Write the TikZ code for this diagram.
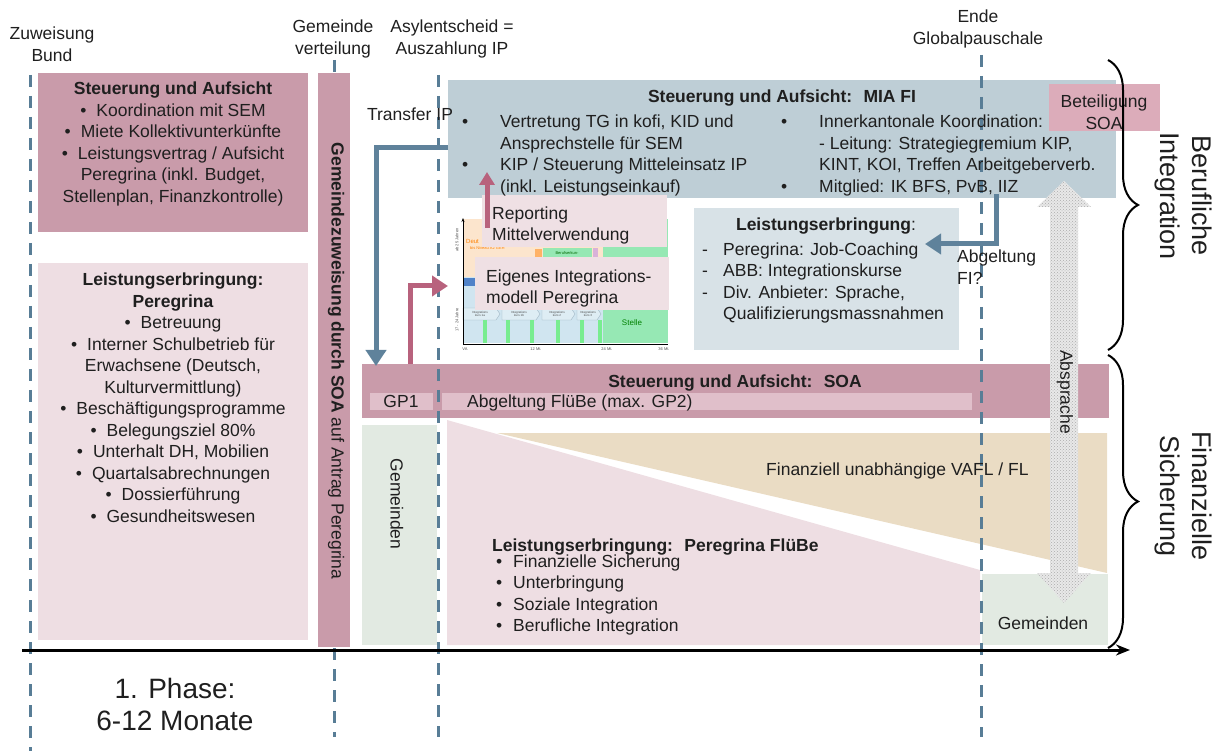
\documentclass[tikz,border=0pt]{standalone}
\usepackage{fontspec}
\setmainfont{Liberation Sans}
\usetikzlibrary{arrows.meta,decorations.pathreplacing,patterns}

\definecolor{soarose}{RGB}{201,155,170}
\definecolor{pinklight}{RGB}{238,222,227}
\definecolor{innerpink}{RGB}{224,191,202}
\definecolor{betpink}{RGB}{220,172,186}
\definecolor{miablue}{RGB}{190,206,214}
\definecolor{lebox}{RGB}{216,226,231}
\definecolor{gemgreen}{RGB}{226,234,226}
\definecolor{beige}{RGB}{234,220,196}
\definecolor{dashblue}{RGB}{88,125,150}
\definecolor{arrowblue}{RGB}{95,130,155}
\definecolor{arrowred}{RGB}{184,98,125}
\definecolor{peach}{RGB}{252,229,205}
\definecolor{chartblue}{RGB}{208,229,240}
\definecolor{mint}{RGB}{150,232,180}
\definecolor{chartdark}{RGB}{80,130,200}

\newcommand{\fs}{\fontsize{17.5}{21.5}\selectfont}
\newcommand{\bl}{\textbullet\hspace{10pt}}
\newcommand{\chfont}{\fontsize{4}{4.5}\selectfont}

\tikzset{
  fillbox/.style={inner sep=0pt, outer sep=0pt, anchor=north west},
  lbl/.style={font=\fs, inner sep=0pt, text=black!88},
  phase/.style={draw=dashblue, line width=3pt, dash pattern=on 12pt off 9pt},
  bluearrow/.style={draw=arrowblue, line width=5pt, -{Triangle[width=20pt,length=16pt]}},
  redarrow/.style={draw=arrowred, line width=5pt, -{Triangle[width=20pt,length=16pt]}},
  bigtxt/.style={inner sep=0pt, text=black!88, align=center},
  chtxt/.style={inner sep=0pt, font=\chfont, text=black!70},
}

\begin{document}
\begin{tikzpicture}[x=1pt,y=-1pt]
\useasboundingbox (0,0) rectangle (1227,751);

% labels above the time line
\node[lbl, align=center, anchor=north] (zuw) at (52,27) {Zuweisung\\Bund};
\node[lbl, align=center, anchor=north] (gemv) at (333,20) {Gemeinde\\verteilung};
\node[lbl, align=center, anchor=north] (asyl) at (452,20) {Asylentscheid =\\Auszahlung IP};
\node[lbl, align=center, anchor=north] (ende) at (978,10) {Ende\\Globalpauschale};

% Gemeindeverteilung (hidden by the bar)
\draw[phase] (334,60) -- (334,737);

% 1. Phase
\node[fillbox, fill=soarose, minimum width=270pt, minimum height=159pt] (steer) at (38,73) {};
\node[fillbox, fill=pinklight, minimum width=270pt, minimum height=377pt] (peregr) at (38,263) {};
\node[fillbox, fill=soarose, minimum width=32pt, minimum height=574pt] (gembar) at (318,73) {};

% Integration
\node[fillbox, fill=miablue, minimum width=668pt, minimum height=118pt] (mia) at (448,80) {};
\node[fillbox, fill=lebox, minimum width=265pt, minimum height=142pt] (lefi) at (694,208) {};

% chart of the integration model
\node[fillbox, minimum width=205pt, minimum height=126pt] (chart) at (463,218) {};
\fill[peach] (463,219) rectangle (603,277);
\fill[chartblue] (463,277) rectangle (603,343);
\fill[mint] (603,219) rectangle (668,343);
\fill[chartdark] (463,278) rectangle (478,286);
\fill[orange!60] (535,249) rectangle (542,257);
\fill[mint] (543,248) rectangle (592,257);
\fill[violet!30] (593,248) rectangle (598,257);
\foreach \xa/\xb in {463/500,502/540,542/575,577/601}
  \draw[fill=chartblue!70, draw=dashblue!60] (\xa,308) -- (\xb-4,308) -- (\xb,314) -- (\xb-4,320) -- (\xa,320) -- cycle;
\foreach \xp in {483,506,530,556,580,598}
  \fill[mint!80!green] (\xp,320) rectangle (\xp+4,343);
\draw[line width=0.8pt, -{Stealth[length=4pt]}] (chart.south west) -- (chart.north west);
\draw[line width=0.8pt] (chart.south west) -- (chart.south east);
\node[chtxt, anchor=north] (cva) at (465,348) {VA};
\node[chtxt, anchor=north] (c12) at (536,348) {12 Mt.};
\node[chtxt, anchor=north] (c24) at (607,348) {24 Mt.};
\node[chtxt, anchor=north] (c36) at (664,348) {36 Mt.};
\node[chtxt, rotate=90] (cab) at (457,240) {ab 25 Jahren};
\node[chtxt, rotate=90] (cjung) at (457,320) {17 - 24 Jahre};
\node[chtxt, anchor=west, text=orange, font=\fontsize{6}{7}\selectfont] (cdeut) at (466,241) {Deut};
\node[chtxt, anchor=west, text=orange] (cniv) at (470,248) {bis Niveau A2 GER};
\node[chtxt, text=green!40!black] (cber) at (567,253) {Berufserkun-};
\node[chtxt, text=green!50!black, font=\fontsize{8}{9}\selectfont] (cstelle) at (632,323) {Stelle};
\node[chtxt, align=center, font=\fontsize{3}{3.5}\selectfont] (ck1) at (480,314) {Integrations\\kurs 1a};
\node[chtxt, align=center, font=\fontsize{3}{3.5}\selectfont] (ck2) at (519,314) {Integrations\\kurs 1b};
\node[chtxt, align=center, font=\fontsize{3}{3.5}\selectfont] (ck3) at (557,314) {Integrations\\kurs 2};
\node[chtxt, align=center, font=\fontsize{3}{3.5}\selectfont] (ck4) at (588,314) {Integrations\\kurs 3};

\node[fillbox, fill=pinklight!95!white, minimum width=185pt, minimum height=52pt] (report) at (482,195) {};
\node[fillbox, fill=pinklight!95!white, minimum width=194pt, minimum height=53pt] (model) at (475,257) {};

% Finanzielle Sicherung
\node[fillbox, fill=soarose, minimum width=747pt, minimum height=54pt] (soa) at (362,364) {};
\node[fillbox, fill=innerpink, minimum width=63pt, minimum height=17pt] (gp1) at (370,393) {};
\node[fillbox, fill=innerpink, minimum width=530pt, minimum height=17pt] (gp2) at (442,393) {};
\node[fillbox, fill=gemgreen, minimum width=75pt, minimum height=220pt] (gemleft) at (362,425) {};
\fill[pinklight] (447,420) -- (980,570) -- (980,645) -- (447,645) -- cycle;
\fill[beige] (497,433) -- (1107,433) -- (1107,573) -- cycle;
\node[fillbox, fill=gemgreen, minimum width=126pt, minimum height=71pt] (gemright) at (982,574) {};

% dashed phase lines
\draw[phase] (30,75) -- (30,751);
\draw[phase] (438,75) -- (438,737);
\draw[phase] (981,55) -- (981,737);

% Absprache
\draw[draw=none, fill=gray!18] (1064,181) -- (1091,207) -- (1078,207) -- (1078,573) -- (1091,573) -- (1064,603)
  -- (1037,573) -- (1050,573) -- (1050,207) -- (1037,207) -- cycle;
\fill[pattern=crosshatch dots, pattern color=gray!65] (1064,181) -- (1091,207) -- (1078,207) -- (1078,573) -- (1091,573)
  -- (1064,603) -- (1037,573) -- (1050,573) -- (1050,207) -- (1037,207) -- cycle;
\node[lbl, rotate=-90] (absp) at (1065,392) {Absprache};

% texts
\node[lbl, align=center, anchor=north] (steertxt) at (173,82) {\textbf{Steuerung und Aufsicht}\\
  \bl Koordination mit SEM\\
  \bl Miete Kollektivunterkünfte\\
  \bl Leistungsvertrag / Aufsicht\\
  Peregrina (inkl. Budget,\\
  Stellenplan, Finanzkontrolle)};
\node[lbl, align=center, anchor=north] (peregrtxt) at (173,273) {\textbf{Leistungserbringung:}\\
  \textbf{Peregrina}\\
  \bl Betreuung\\
  \bl Interner Schulbetrieb für\\
  Erwachsene (Deutsch,\\
  Kulturvermittlung)\\
  \bl Beschäftigungsprogramme\\
  \bl Belegungsziel 80\%\\
  \bl Unterhalt DH, Mobilien\\
  \bl Quartalsabrechnungen\\
  \bl Dossierführung\\
  \bl Gesundheitswesen};
\node[lbl, rotate=-90] (gembartxt) at (336,361) {\textbf{Gemeindezuweisung durch SOA} auf Antrag Peregrina};

\node[lbl, anchor=base] (miatitle) at (782,103) {\textbf{Steuerung und Aufsicht: \ MIA FI}};
\node[lbl, align=left, anchor=north west] (mialeft) at (462,115) {\makebox[38pt][l]{\textbullet}Vertretung TG in kofi, KID und\\
  \hspace*{38pt}Ansprechstelle für SEM\\
  \makebox[38pt][l]{\textbullet}KIP / Steuerung Mitteleinsatz IP\\
  \hspace*{38pt}(inkl. Leistungseinkauf)};
\node[lbl, align=left, anchor=north west] (miaright) at (781,115) {\makebox[38pt][l]{\textbullet}Innerkantonale Koordination:\\
  \hspace*{38pt}- Leitung: Strategiegremium KIP,\\
  \hspace*{38pt}KINT, KOI, Treffen Arbeitgeberverb.\\
  \makebox[38pt][l]{\textbullet}Mitglied: IK BFS, PvB, IIZ};
\node[fillbox, fill=betpink, minimum width=111pt, minimum height=47pt] (betsoa) at (1049,84) {};
\node[lbl, align=center] (betsoatxt) at (1104,112) {Beteiligung\\SOA};
\node[lbl, anchor=base] (transfer) at (410,121) {Transfer IP};

\node[lbl, align=left, anchor=north west] (reporttxt) at (492,206.5) {Reporting\\Mittelverwendung};
\node[lbl, align=left, anchor=north west] (modeltxt) at (486,269.5) {Eigenes Integrations-\\modell Peregrina};

\node[lbl, anchor=base] (lefititle) at (826,231) {\textbf{Leistungserbringung}:};
\node[lbl, align=left, anchor=north west] (lefitxt) at (702,242.5) {\makebox[21pt][l]{-}Peregrina: Job-Coaching\\
  \makebox[21pt][l]{-}ABB: Integrationskurse\\
  \makebox[21pt][l]{-}Div. Anbieter: Sprache,\\
  \hspace*{21pt}Qualifizierungsmassnahmen};
\node[lbl, align=left, anchor=north west] (abgfi) at (957,250) {Abgeltung\\FI?};

\node[lbl, anchor=base] (soatitle) at (735,388) {\textbf{Steuerung und Aufsicht: \ SOA}};
\node[lbl, anchor=base] (gp1txt) at (401,408) {GP1};
\node[lbl, anchor=base west] (gp2txt) at (467,408) {Abgeltung FlüBe (max. GP2)};
\node[lbl, rotate=-90] (gemlefttxt) at (397,504) {Gemeinden};
\node[lbl, anchor=base west] (vafl) at (766,475) {Finanziell unabhängige VAFL / FL};
\node[lbl, anchor=base west] (flube) at (492,551) {\textbf{Leistungserbringung: \ Peregrina FlüBe}};
\node[lbl, align=left, anchor=north west] (flubetxt) at (496,554.5) {\makebox[17pt][l]{\textbullet}Finanzielle Sicherung\\
  \makebox[17pt][l]{\textbullet}Unterbringung\\
  \makebox[17pt][l]{\textbullet}Soziale Integration\\
  \makebox[17pt][l]{\textbullet}Berufliche Integration};
\node[lbl, anchor=base] (gemrighttxt) at (1043,629) {Gemeinden};

% arrows
\coordinate (transtip) at (376,366);
\coordinate (modeltip) at (448,286);
\coordinate (reptip) at (487,172);
\coordinate (abgtip) at (925,244);
\draw[bluearrow] ([yshift=-9pt]mia.west) -| (transtip);
\draw[redarrow] ([xshift=48pt]soa.north west) |- (modeltip);
\draw[redarrow, -{Triangle[width=15pt,length=13pt]}] ([xshift=5pt,yshift=19pt]report.south west) -- (reptip);
\draw[bluearrow] ([xshift=548pt,yshift=4pt]mia.south west) |- (abgtip);

% time line
\coordinate (tstart) at (22,650);
\coordinate (tend) at (1130,650);
\draw[line width=3pt, -{Stealth[length=14pt,width=11pt]}] (tstart) -- (tend);
\node[bigtxt, font=\fontsize{28}{32}\selectfont] (phase1) at (175,704) {1. Phase:\\6-12 Monate};

% braces
\draw[line width=2pt, decorate, decoration={brace, amplitude=30pt}] (1108,60) -- (1108,350);
\draw[line width=2pt, decorate, decoration={brace, amplitude=30pt}] (1108,355) -- (1108,648);
\node[bigtxt, rotate=-90, font=\fontsize{27}{32}\selectfont] (berint) at (1183,196) {Berufliche\\Integration};
\node[bigtxt, rotate=-90, font=\fontsize{27}{32}\selectfont] (finsich) at (1183,496) {Finanzielle\\Sicherung};
\end{tikzpicture}
\end{document}
